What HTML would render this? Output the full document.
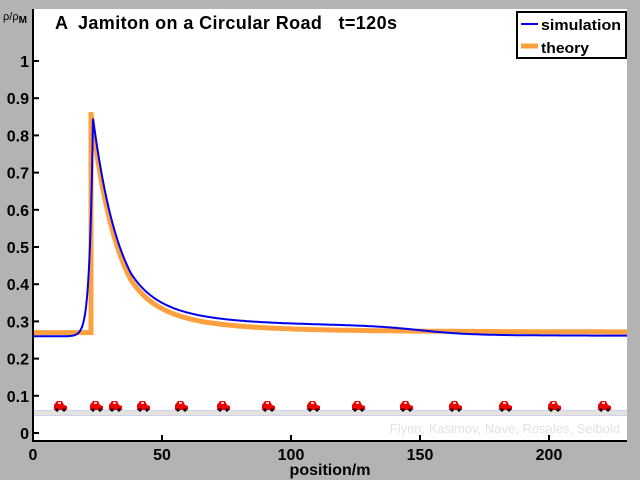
<!DOCTYPE html>
<html><head><meta charset="utf-8"><style>
body{margin:0;background:#b3b3b3;width:640px;height:480px;overflow:hidden;font-family:"Liberation Sans",sans-serif}
svg{display:block}
</style></head><body>
<svg width="640" height="480" xmlns="http://www.w3.org/2000/svg" font-family="Liberation Sans, sans-serif">
<rect x="0" y="0" width="640" height="480" fill="#b3b3b3"/>
<rect x="33" y="9" width="594" height="432" fill="#fff"/>
<rect x="33" y="410" width="594" height="6" fill="#e4e4dc"/>
<line x1="33" y1="410.5" x2="627" y2="410.5" stroke="#d0d0f0"/>
<line x1="33" y1="415.5" x2="627" y2="415.5" stroke="#d0d0f0"/>
<text x="620" y="433" text-anchor="end" font-size="13" fill="#e2e2e2">Flynn, Kasimov, Nave, Rosales, Seibold</text>
<g id="cars"></g>
<polyline id="th" fill="none" stroke="#ffa040" stroke-width="5"/>
<polyline id="sim" fill="none" stroke="#0000ee" stroke-width="2"/>
<line x1="33" y1="9" x2="33" y2="441" stroke="#000" stroke-width="2"/>
<line x1="32" y1="441" x2="627" y2="441" stroke="#000" stroke-width="2"/>
<g id="ticks" stroke="#000" stroke-width="2"></g>
<g font-weight="bold" font-size="16" fill="#000" text-anchor="end" id="ylab"></g>
<g font-weight="bold" font-size="16" fill="#000" text-anchor="middle">
<text x="33" y="460">0</text><text x="162" y="460">50</text><text x="291" y="460">100</text><text x="420" y="460">150</text><text x="549" y="460">200</text>
<text x="330" y="475">position/m</text></g>
<text x="3" y="20" font-size="11" fill="#000">ρ/ρ<tspan font-size="10" font-weight="bold" dy="3">M</tspan></text>
<text x="55" y="29" font-size="18" font-weight="bold" fill="#000">A</text>
<text x="78" y="29" font-size="18" font-weight="bold" fill="#000" textLength="319" lengthAdjust="spacing" xml:space="preserve">Jamiton on a Circular Road   t=120s</text>
<rect x="517" y="12" width="109" height="46" fill="#fff" stroke="#000" stroke-width="2"/>
<line x1="521" y1="24" x2="538" y2="24" stroke="#0000ee" stroke-width="2"/>
<line x1="521" y1="46" x2="538" y2="46" stroke="#ffa040" stroke-width="5"/>
<text x="541" y="30" font-size="15" font-weight="bold" textLength="80" lengthAdjust="spacingAndGlyphs">simulation</text>
<text x="541" y="53" font-size="15" font-weight="bold" textLength="48" lengthAdjust="spacingAndGlyphs">theory</text>
</svg>
<script>
var Y=function(v){return 433-v*372};
var ns="http://www.w3.org/2000/svg";
function K(d){return 28+0.13*Math.max(0,d-40);}
var t=[],s=[];
for(var px=33;px<=627;px++){
 var v;
 if(px<91) v=0.27; else {var d=px-91; v=0.27+0.59*Math.exp(-d/K(d));}
 t.push(px+","+Y(v).toFixed(1));
 var w;
 if(px<93){w=0.26+0.58*Math.exp(-(93-px)/3.5);}
 else {var e=px-93; w=0.26+0.56*Math.exp(-e/K(e+2))+0.025/(1+Math.exp((px-420)/25));}
 s.push(px+","+Y(w).toFixed(1));
}
t.splice(58,0,"91,"+Y(0.27),"91,"+Y(0.863));
document.getElementById("th").setAttribute("points",t.join(" "));
document.getElementById("sim").setAttribute("points",s.join(" "));
var tk=document.getElementById("ticks"),yl=document.getElementById("ylab");
for(var i=0;i<=10;i++){var y=Y(i/10);var l=document.createElementNS(ns,"line");
l.setAttribute("x1",33);l.setAttribute("x2",39);l.setAttribute("y1",y);l.setAttribute("y2",y);tk.appendChild(l);
var tx=document.createElementNS(ns,"text");tx.setAttribute("x",29);tx.setAttribute("y",y+6);
tx.textContent=i==0?"0":(i==10?"1":"0."+i);yl.appendChild(tx);}
[162,291,420,549].forEach(function(x){var l=document.createElementNS(ns,"line");l.setAttribute("x1",x);l.setAttribute("x2",x);l.setAttribute("y1",435);l.setAttribute("y2",441);tk.appendChild(l);});
var cars=[60,96,115,143,181,223,268,313,358,406,455,505,554,604],g=document.getElementById("cars");
cars.forEach(function(x){g.insertAdjacentHTML("beforeend",
'<path d="M'+(x-6)+' 410 L'+(x-6)+' 405 L'+(x-3)+' 401 L'+(x+2)+' 401 L'+(x+4)+' 405 L'+(x+7)+' 406 L'+(x+7)+' 410Z" fill="#ee0000"/>'+
'<rect x="'+(x-2)+'" y="402" width="3" height="2" fill="#ffcccc"/>'+
'<circle cx="'+(x-3)+'" cy="410" r="1.6" fill="#000"/><circle cx="'+(x+4)+'" cy="410" r="1.6" fill="#000"/>');});
</script>
</body></html>
